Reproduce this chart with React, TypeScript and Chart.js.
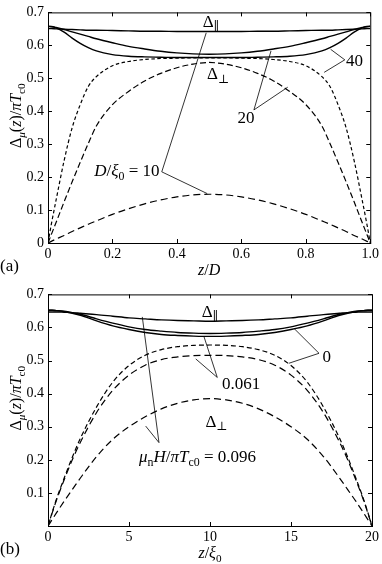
import React, { useEffect, useRef } from 'react';
import { Chart, registerables } from 'chart.js';

Chart.register(...registerables);

// ---------- Panel (a) data: z/D ----------
const zA = [0, 0.01, 0.025, 0.05, 0.075, 0.1, 0.125, 0.15, 0.2, 0.25, 0.3, 0.35, 0.4, 0.45, 0.5,
  0.55, 0.6, 0.65, 0.7, 0.75, 0.8, 0.85, 0.875, 0.9, 0.925, 0.95, 0.975, 0.99, 1];
const parD10 = [0.651, 0.651, 0.650, 0.649, 0.648, 0.647, 0.646, 0.646, 0.645, 0.644, 0.643, 0.643, 0.642, 0.642, 0.642,
  0.642, 0.642, 0.643, 0.643, 0.644, 0.645, 0.646, 0.646, 0.647, 0.648, 0.649, 0.650, 0.651, 0.651];
const parD20 = [0.658, 0.657, 0.654, 0.648, 0.641, 0.634, 0.627, 0.620, 0.608, 0.597, 0.589, 0.582, 0.577, 0.574, 0.573,
  0.574, 0.577, 0.582, 0.589, 0.597, 0.608, 0.620, 0.627, 0.634, 0.641, 0.648, 0.654, 0.657, 0.658];
const parD40 = [0.658, 0.657, 0.653, 0.640, 0.622, 0.606, 0.593, 0.583, 0.572, 0.567, 0.565, 0.564, 0.563, 0.563, 0.563,
  0.563, 0.563, 0.564, 0.565, 0.567, 0.572, 0.583, 0.593, 0.606, 0.622, 0.640, 0.653, 0.657, 0.658];
const perD10 = [0, 0.005, 0.012, 0.023, 0.035, 0.046, 0.057, 0.067, 0.087, 0.104, 0.119, 0.131, 0.140, 0.146, 0.148,
  0.146, 0.140, 0.131, 0.119, 0.104, 0.087, 0.067, 0.057, 0.046, 0.035, 0.023, 0.012, 0.005, 0];
const perD20 = [0, 0.025, 0.062, 0.125, 0.186, 0.245, 0.302, 0.355, 0.420, 0.460, 0.492, 0.515, 0.532, 0.543, 0.548,
  0.543, 0.532, 0.515, 0.492, 0.460, 0.420, 0.355, 0.302, 0.245, 0.186, 0.125, 0.062, 0.025, 0];
const perD40 = [0, 0.055, 0.130, 0.250, 0.350, 0.420, 0.475, 0.505, 0.538, 0.551, 0.557, 0.560, 0.561, 0.562, 0.562,
  0.562, 0.561, 0.560, 0.557, 0.551, 0.538, 0.505, 0.475, 0.420, 0.350, 0.250, 0.130, 0.055, 0];

// ---------- Panel (b) data: z/xi0 ----------
const zB = [0, 0.25, 0.5, 1, 1.5, 2, 3, 4, 5, 6, 7, 8, 9, 10,
  11, 12, 13, 14, 15, 16, 17, 18, 18.5, 19, 19.5, 19.75, 20];
const parH0 = [0.652, 0.652, 0.651, 0.649, 0.645, 0.640, 0.626, 0.613, 0.602, 0.594, 0.589, 0.585, 0.583, 0.582,
  0.583, 0.585, 0.589, 0.594, 0.602, 0.613, 0.626, 0.640, 0.645, 0.649, 0.651, 0.652, 0.652];
const parH061 = [0.652, 0.652, 0.651, 0.648, 0.643, 0.637, 0.620, 0.605, 0.594, 0.585, 0.579, 0.576, 0.574, 0.573,
  0.574, 0.576, 0.579, 0.585, 0.594, 0.605, 0.620, 0.637, 0.643, 0.648, 0.651, 0.652, 0.652];
const parH096 = [0.647, 0.647, 0.647, 0.646, 0.645, 0.643, 0.639, 0.634, 0.629, 0.626, 0.623, 0.621, 0.620, 0.619,
  0.620, 0.621, 0.623, 0.626, 0.629, 0.634, 0.639, 0.643, 0.645, 0.646, 0.647, 0.647, 0.647];
const perH0 = [0, 0.040, 0.078, 0.145, 0.208, 0.265, 0.360, 0.435, 0.485, 0.516, 0.533, 0.542, 0.546, 0.547,
  0.546, 0.542, 0.533, 0.516, 0.485, 0.435, 0.360, 0.265, 0.208, 0.145, 0.078, 0.040, 0];
const perH061 = [0, 0.038, 0.075, 0.140, 0.200, 0.253, 0.343, 0.410, 0.456, 0.486, 0.503, 0.511, 0.515, 0.516,
  0.515, 0.511, 0.503, 0.486, 0.456, 0.410, 0.343, 0.253, 0.200, 0.140, 0.075, 0.038, 0];
const perH096 = [0, 0.019, 0.038, 0.075, 0.110, 0.145, 0.210, 0.262, 0.300, 0.330, 0.354, 0.371, 0.381, 0.385,
  0.381, 0.371, 0.354, 0.330, 0.300, 0.262, 0.210, 0.145, 0.110, 0.075, 0.038, 0.019, 0];

// ---------- ticks ----------
const yTickStep = 0.1;
const xTickStepA = 0.2;
const xTickStepB = 5;

const FONT = '"Liberation Serif", "DejaVu Serif", "Times New Roman", serif';

type Run = { t: string; it?: boolean; sub?: boolean };
type Label = { runs: Run[]; x: number; y: number; align: 'left' | 'center' | 'right' };
type Leader = [[number, number], [number, number]];

const labelsA: Label[] = [
  { runs: [{ t: 'Δ' }, { t: '∥', sub: true }], x: 0.506, y: 0.674, align: 'center' },
  { runs: [{ t: 'Δ' }, { t: '⊥', sub: true }], x: 0.528, y: 0.515, align: 'center' },
  { runs: [{ t: 'D', it: true }, { t: '/' }, { t: 'ξ', it: true }, { t: '0', sub: true }, { t: ' = 10' }], x: 0.346, y: 0.219, align: 'right' },
  { runs: [{ t: '20' }], x: 0.641, y: 0.38, align: 'right' },
  { runs: [{ t: '40' }], x: 0.925, y: 0.554, align: 'left' },
];
const leadersA: Leader[] = [
  [[0.353, 0.216], [0.491, 0.638]],
  [[0.353, 0.216], [0.494, 0.150]],
  [[0.639, 0.404], [0.692, 0.583]],
  [[0.639, 0.404], [0.744, 0.473]],
  [[0.921, 0.556], [0.877, 0.588]],
  [[0.921, 0.556], [0.857, 0.518]],
];
const labelsB: Label[] = [
  { runs: [{ t: 'Δ' }, { t: '∥', sub: true }], x: 10.0, y: 0.650, align: 'center' },
  { runs: [{ t: 'Δ' }, { t: '⊥', sub: true }], x: 10.4, y: 0.317, align: 'center' },
  { runs: [{ t: '0' }], x: 17.2, y: 0.512, align: 'center' },
  { runs: [{ t: '0.061' }], x: 10.74, y: 0.431, align: 'left' },
  { runs: [{ t: 'μ', it: true }, { t: 'n', sub: true }, { t: 'H', it: true }, { t: '/' }, { t: 'π', it: true }, { t: 'T', it: true }, { t: 'c0', sub: true }, { t: ' = 0.096' }], x: 5.62, y: 0.210, align: 'left' },
];
const leadersB: Leader[] = [
  [[16.73, 0.522], [15.19, 0.597]],
  [[16.73, 0.522], [14.88, 0.492]],
  [[10.45, 0.449], [9.63, 0.572]],
  [[10.45, 0.449], [9.12, 0.505]],
  [[6.85, 0.252], [6.03, 0.302]],
  [[6.85, 0.252], [5.82, 0.632]],
];

const yTitle: Run[] = [{ t: 'Δ' }, { t: 'μ', it: true, sub: true }, { t: '(' }, { t: 'z', it: true }, { t: ')/' }, { t: 'π', it: true }, { t: 'T', it: true }, { t: 'c0', sub: true }];
const xTitleA: Run[] = [{ t: 'z', it: true }, { t: '/' }, { t: 'D', it: true }];
const xTitleB: Run[] = [{ t: 'z', it: true }, { t: '/' }, { t: 'ξ', it: true }, { t: '0', sub: true }];

function runFont(r: Run, size: number) {
  const s = r.sub ? size * 0.7 : size;
  return `${r.it ? 'italic ' : ''}${s}px ${FONT}`;
}

function drawRich(ctx: CanvasRenderingContext2D, runs: Run[], x: number, y: number, size: number, align: string) {
  ctx.save();
  let w = 0;
  for (const r of runs) { ctx.font = runFont(r, size); w += ctx.measureText(r.t).width; }
  let cx = align === 'left' ? x : align === 'right' ? x - w : x - w / 2;
  ctx.textAlign = 'left';
  ctx.textBaseline = 'alphabetic';
  ctx.fillStyle = '#000';
  for (const r of runs) {
    ctx.font = runFont(r, size);
    ctx.fillText(r.t, cx, y + size * 0.33 + (r.sub ? size * 0.22 : 0));
    cx += ctx.measureText(r.t).width;
  }
  ctx.restore();
}

type Decor = { labels: Label[]; leaders: Leader[]; xTitle: Run[]; tag: string };

function makeDecor(cfg: Decor) {
  return {
    id: 'decor',
    afterDraw(chart: any) {
      const { ctx, chartArea: a, scales } = chart;
      const xs = scales.x, ys = scales.y;
      ctx.save();
      ctx.strokeStyle = '#000';
      ctx.lineWidth = 1;
      ctx.strokeRect(a.left + 0.5, a.top + 0.5, a.right - a.left, a.bottom - a.top);
      const L = 4;
      ctx.beginPath();
      xs.ticks.forEach((t: any) => {
        const px = Math.round(xs.getPixelForValue(t.value)) + 0.5;
        ctx.moveTo(px, a.bottom); ctx.lineTo(px, a.bottom - L);
        ctx.moveTo(px, a.top); ctx.lineTo(px, a.top + L);
      });
      ys.ticks.forEach((t: any) => {
        const py = Math.round(ys.getPixelForValue(t.value)) + 0.5;
        ctx.moveTo(a.left, py); ctx.lineTo(a.left + L, py);
        ctx.moveTo(a.right, py); ctx.lineTo(a.right - L, py);
      });
      ctx.stroke();
      ctx.lineWidth = 0.8;
      ctx.beginPath();
      for (const [p, q] of cfg.leaders) {
        ctx.moveTo(xs.getPixelForValue(p[0]), ys.getPixelForValue(p[1]));
        ctx.lineTo(xs.getPixelForValue(q[0]), ys.getPixelForValue(q[1]));
      }
      ctx.stroke();
      for (const lb of cfg.labels) {
        drawRich(ctx, lb.runs, xs.getPixelForValue(lb.x), ys.getPixelForValue(lb.y), 17, lb.align);
      }
      drawRich(ctx, cfg.xTitle, (a.left + a.right) / 2, a.bottom + 27, 16, 'center');
      drawRich(ctx, [{ t: cfg.tag }], 0, a.bottom + 22, 17, 'left');
      ctx.translate(16, (a.top + a.bottom) / 2 - 12);
      ctx.rotate(-Math.PI / 2);
      drawRich(ctx, yTitle, 0, 0, 16, 'center');
      ctx.restore();
    },
  };
}

function series(xs: number[], ys: number[], dash: number[], width: number) {
  return {
    data: xs.map((x, i) => ({ x, y: ys[i] })),
    showLine: true,
    borderColor: '#000',
    borderWidth: width,
    borderDash: dash,
    pointRadius: 0,
    cubicInterpolationMode: 'monotone' as const,
    fill: false,
  };
}

function fmt1(v: number) {
  return Math.abs(v) < 1e-9 ? '0' : (Math.round(v * 10) / 10).toFixed(1);
}

function makeConfig(datasets: any[], xMax: number, xStep: number, xFmt: (v: number) => string, showY0: boolean, padTop: number, xHeight: number, decor: Decor) {
  const tickFont = { family: FONT, size: 14 };
  return {
    type: 'scatter' as const,
    data: { datasets },
    options: {
      responsive: false,
      maintainAspectRatio: false,
      animation: false as const,
      layout: { padding: { top: padTop, right: 9, left: 0, bottom: 0 } },
      plugins: { legend: { display: false }, tooltip: { enabled: false } },
      scales: {
        x: {
          type: 'linear' as const, min: 0, max: xMax,
          ticks: { stepSize: xStep, color: '#000', font: tickFont, padding: 3, maxRotation: 0, autoSkip: false, callback: (v: any) => xFmt(Number(v)) },
          grid: { display: false, drawTicks: false },
          border: { display: false },
          afterFit: (s: any) => { s.height = xHeight; },
        },
        y: {
          type: 'linear' as const, min: 0, max: 0.7,
          ticks: { stepSize: yTickStep, color: '#000', font: tickFont, padding: 4, autoSkip: false, callback: (v: any) => (Math.abs(Number(v)) < 1e-9 && !showY0 ? '' : fmt1(Number(v))) },
          grid: { display: false, drawTicks: false },
          border: { display: false },
          afterFit: (s: any) => { s.width = 48; },
        },
      },
    },
    plugins: [makeDecor(decor)],
  };
}

export default function App() {
  const refA = useRef<HTMLCanvasElement>(null);
  const refB = useRef<HTMLCanvasElement>(null);
  useEffect(() => {
    const dsA = [
      series(zA, parD10, [], 1.4),
      series(zA, parD20, [], 1.4),
      series(zA, parD40, [], 1.4),
      series(zA, perD10, [7, 4], 1.2),
      series(zA, perD20, [6, 3], 1.2),
      series(zA, perD40, [3.5, 2.5], 1.2),
    ];
    const dsB = [
      series(zB, parH0, [], 1.4),
      series(zB, parH061, [], 1.4),
      series(zB, parH096, [], 1.4),
      series(zB, perH0, [5, 3], 1.2),
      series(zB, perH061, [7, 4], 1.2),
      series(zB, perH096, [7, 4], 1.2),
    ];
    const cA = new Chart(refA.current!, makeConfig(dsA, 1, xTickStepA, fmt1, true, 9, 39,
      { labels: labelsA, leaders: leadersA, xTitle: xTitleA, tag: '(a)' }) as any);
    const cB = new Chart(refB.current!, makeConfig(dsB, 20, xTickStepB, (v) => String(Math.round(v)), false, 10, 38,
      { labels: labelsB, leaders: leadersB, xTitle: xTitleB, tag: '(b)' }) as any);
    return () => { cA.destroy(); cB.destroy(); };
  }, []);
  return (
    <div style={{ position: 'absolute', left: 0, top: 0, width: 382, height: 564, background: '#fff' }}>
      <canvas ref={refA} width={382} height={282} style={{ display: 'block', width: 382, height: 282 }} />
      <canvas ref={refB} width={382} height={282} style={{ display: 'block', width: 382, height: 282 }} />
    </div>
  );
}
